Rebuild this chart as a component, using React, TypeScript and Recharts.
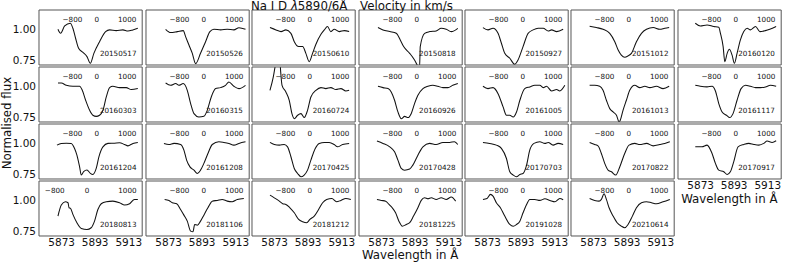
import React from "react";
import { LineChart, Line, XAxis, YAxis } from "recharts";

// axis ticks
const wavelengthTicks = [5873, 5893, 5913];
const wavelengthMinor = [5863, 5868, 5873, 5878, 5883, 5888, 5893, 5898, 5903, 5908, 5913, 5918];
const fluxTicks = [0.75, 1.0];
const fluxMinor = [0.75, 0.8, 0.85, 0.9, 0.95, 1.0, 1.05, 1.1, 1.15];
const velocityTicks = [-800, 0, 1000];

const wavelengthRange: [number, number] = [5859.5, 5921];
const fluxRange: [number, number] = [0.709, 1.157];
const velocityRange: [number, number] = [-1900, 1495];
const velocityRange20180813: [number, number] = [-1190, 1365];

// [wavelength Å, normalised flux]
const s20150517 = [[5870.8, 1.0], [5872.4, 0.967], [5874.8, 1.027], [5878.2, 1.049], [5879.7, 1.008], [5881.3, 0.927], [5883.1, 0.845], [5885.7, 0.812], [5888.1, 0.777], [5890.1, 0.723], [5892.2, 0.804], [5895.6, 0.899], [5899.2, 0.981], [5901.6, 0.995], [5905.5, 0.989], [5909.5, 0.995], [5912.5, 0.986], [5915.4, 0.995], [5918.4, 1.008]];
const s20150526 = [[5871.2, 1.0], [5874.2, 0.973], [5878.2, 0.981], [5881.7, 0.989], [5883.1, 0.94], [5885.1, 0.872], [5887.1, 0.804], [5889.1, 0.72], [5892.0, 0.804], [5895.0, 0.899], [5897.6, 0.981], [5900.0, 1.0], [5904.0, 0.995], [5907.9, 1.0], [5911.9, 0.995], [5914.9, 1.013], [5918.8, 1.0]];
const s20150610 = [[5870.2, 1.014], [5873.8, 0.995], [5876.8, 0.981], [5879.7, 0.995], [5882.7, 0.967], [5884.7, 0.899], [5887.3, 0.859], [5889.7, 0.859], [5891.6, 0.804], [5893.6, 0.736], [5895.6, 0.804], [5897.6, 0.878], [5900.6, 0.959], [5902.6, 0.995], [5904.5, 1.022], [5906.5, 0.981], [5908.5, 1.0], [5911.5, 0.981], [5914.5, 0.989], [5917.4, 0.981]];
const s20150818 = [[5870.8, 1.014], [5873.8, 0.995], [5877.8, 0.981], [5881.7, 0.967], [5884.1, 0.913], [5886.1, 0.859], [5889.7, 0.804], [5892.6, 0.75], [5894.6, 0.7], [5895.6, 0.69], [5896.0, 0.859], [5898.6, 0.967], [5901.6, 0.981], [5905.5, 0.986], [5908.5, 1.008], [5911.5, 1.0], [5914.5, 0.981], [5918.4, 1.008]];
const s20150927 = [[5870.2, 1.014], [5873.2, 0.995], [5876.2, 1.008], [5879.2, 0.967], [5881.2, 0.886], [5883.2, 0.804], [5886.2, 0.764], [5889.1, 0.715], [5891.1, 0.75], [5894.1, 0.859], [5897.1, 0.967], [5900.1, 0.995], [5903.1, 1.008], [5906.1, 1.008], [5909.1, 0.986], [5911.1, 0.995], [5914.1, 0.981], [5918.0, 1.0]];
const s20151012 = [[5870.6, 1.024], [5874.6, 1.014], [5878.6, 1.0], [5882.6, 0.967], [5885.6, 0.899], [5887.6, 0.831], [5889.5, 0.79], [5891.5, 0.772], [5893.5, 0.783], [5895.5, 0.804], [5898.5, 0.899], [5901.5, 0.967], [5904.5, 1.0], [5908.5, 1.014], [5912.4, 1.0], [5915.4, 1.008], [5918.0, 1.014]];
const s20160120 = [[5869.8, 1.049], [5872.8, 1.027], [5876.8, 1.035], [5880.8, 1.022], [5883.8, 1.016], [5884.8, 0.967], [5886.4, 0.859], [5887.4, 0.736], [5888.8, 0.804], [5890.1, 0.837], [5891.7, 0.791], [5893.1, 0.723], [5894.7, 0.804], [5896.7, 0.913], [5898.7, 0.981], [5900.7, 1.008], [5902.7, 0.995], [5905.7, 1.022], [5908.3, 0.981], [5911.6, 0.989], [5914.2, 1.0], [5918.0, 1.022]];
const s20160303 = [[5870.8, 1.027], [5872.8, 1.027], [5875.8, 1.008], [5879.7, 1.0], [5883.7, 1.0], [5885.3, 0.967], [5887.3, 0.886], [5889.7, 0.804], [5891.6, 0.764], [5893.6, 0.755], [5895.6, 0.764], [5897.6, 0.804], [5899.6, 0.913], [5901.6, 0.989], [5903.5, 1.0], [5907.5, 0.989], [5911.5, 0.989], [5914.5, 0.973], [5918.4, 0.981]];
const s20160315 = [[5871.2, 1.027], [5874.2, 1.008], [5877.2, 1.022], [5879.1, 1.008], [5881.7, 1.022], [5884.1, 0.967], [5886.1, 0.859], [5888.1, 0.777], [5891.0, 0.75], [5894.0, 0.755], [5896.0, 0.804], [5898.4, 0.913], [5901.0, 0.981], [5903.9, 0.989], [5906.9, 1.008], [5908.9, 1.035], [5911.9, 1.0], [5914.9, 0.981], [5918.8, 1.008]];
const s20160724 = [[5870.2, 0.967], [5872.2, 1.076], [5873.4, 1.171], [5874.8, 1.27], [5875.8, 1.27], [5876.6, 1.117], [5877.4, 1.008], [5879.7, 0.954], [5881.7, 0.886], [5883.3, 0.777], [5884.7, 0.736], [5886.7, 0.764], [5888.7, 0.777], [5890.6, 0.745], [5892.6, 0.804], [5894.6, 0.913], [5897.6, 0.967], [5900.6, 0.989], [5903.5, 0.981], [5906.5, 0.989], [5909.5, 0.973], [5912.5, 0.981], [5915.4, 0.962], [5917.4, 0.967]];
const s20160926 = [[5870.8, 1.0], [5873.8, 0.989], [5876.8, 0.981], [5878.7, 0.954], [5880.7, 0.886], [5882.7, 0.791], [5884.7, 0.736], [5886.7, 0.755], [5888.7, 0.745], [5890.6, 0.777], [5892.6, 0.859], [5894.6, 0.927], [5897.6, 0.981], [5900.6, 1.0], [5903.5, 1.008], [5906.5, 1.0], [5909.5, 0.989], [5912.5, 0.989], [5915.4, 1.008], [5918.4, 1.022]];
const s20161005 = [[5870.2, 1.0], [5873.2, 0.981], [5876.2, 0.989], [5879.2, 0.94], [5882.2, 0.832], [5884.2, 0.764], [5886.2, 0.764], [5888.2, 0.75], [5890.2, 0.791], [5892.2, 0.886], [5895.1, 0.981], [5898.1, 0.995], [5901.1, 1.008], [5904.1, 1.008], [5906.1, 0.989], [5908.1, 1.0], [5911.1, 0.962], [5914.1, 0.973], [5916.0, 0.962], [5919.0, 1.008]];
const s20161013 = [[5870.6, 1.008], [5873.6, 1.008], [5876.6, 1.0], [5878.6, 0.967], [5880.6, 0.886], [5882.6, 0.818], [5884.6, 0.791], [5886.6, 0.764], [5888.2, 0.709], [5889.0, 0.728], [5890.5, 0.804], [5892.5, 0.886], [5894.5, 0.967], [5897.5, 1.008], [5900.5, 0.989], [5903.5, 1.0], [5906.5, 0.989], [5910.4, 1.0], [5914.4, 0.981], [5918.0, 1.0]];
const s20161117 = [[5869.8, 1.008], [5872.8, 1.0], [5876.8, 0.995], [5879.8, 1.0], [5881.8, 0.962], [5883.8, 0.859], [5885.8, 0.791], [5888.4, 0.764], [5890.3, 0.745], [5892.3, 0.777], [5894.7, 0.886], [5897.1, 0.981], [5899.7, 1.008], [5902.7, 1.0], [5905.7, 0.989], [5908.7, 0.989], [5911.6, 0.995], [5914.6, 1.008], [5918.0, 1.0]];
const s20161204 = [[5870.2, 0.985], [5872.8, 0.999], [5875.8, 1.001], [5878.7, 0.999], [5880.7, 0.958], [5882.1, 0.904], [5883.7, 0.808], [5884.7, 0.741], [5886.1, 0.769], [5888.1, 0.782], [5890.1, 0.755], [5891.6, 0.746], [5893.6, 0.795], [5895.2, 0.89], [5897.6, 0.971], [5900.6, 0.999], [5904.5, 1.001], [5907.5, 1.004], [5910.5, 0.99], [5912.5, 0.979], [5915.5, 0.999], [5918.4, 1.007]];
const s20161208 = [[5870.2, 0.999], [5873.2, 0.99], [5876.2, 0.999], [5880.1, 0.99], [5882.1, 0.944], [5883.7, 0.863], [5885.7, 0.808], [5888.1, 0.781], [5890.1, 0.754], [5892.0, 0.781], [5894.0, 0.836], [5896.4, 0.917], [5899.0, 0.99], [5902.9, 1.012], [5905.9, 1.007], [5908.9, 0.999], [5911.9, 0.985], [5914.9, 0.999], [5918.8, 1.012]];
const s20170425 = [[5870.2, 1.007], [5872.8, 0.99], [5875.8, 0.985], [5878.7, 0.99], [5880.7, 0.971], [5882.7, 0.89], [5884.7, 0.795], [5886.7, 0.754], [5888.7, 0.727], [5890.6, 0.741], [5892.6, 0.781], [5894.6, 0.863], [5897.2, 0.958], [5899.6, 0.999], [5902.6, 1.007], [5905.5, 1.007], [5908.5, 0.99], [5910.5, 0.971], [5913.5, 0.99], [5917.4, 0.999]];
const s20170428 = [[5870.2, 1.018], [5873.8, 0.999], [5877.8, 0.971], [5880.7, 0.93], [5882.7, 0.863], [5884.7, 0.795], [5886.7, 0.781], [5889.7, 0.79], [5891.6, 0.822], [5894.6, 0.903], [5897.6, 0.971], [5901.6, 0.999], [5905.5, 0.99], [5909.5, 1.007], [5913.5, 1.007], [5916.4, 1.012], [5918.4, 0.99]];
const s20170703 = [[5870.2, 1.007], [5874.2, 0.999], [5878.2, 0.985], [5881.2, 0.958], [5884.2, 0.876], [5886.2, 0.768], [5888.2, 0.741], [5890.2, 0.727], [5892.2, 0.746], [5894.1, 0.754], [5896.2, 0.822], [5898.1, 0.944], [5900.6, 0.999], [5904.1, 1.012], [5907.1, 0.999], [5909.1, 1.007], [5912.0, 0.985], [5915.0, 0.999], [5918.0, 0.99]];
const s20170822 = [[5870.6, 1.007], [5873.6, 0.99], [5875.6, 0.979], [5877.6, 0.917], [5879.6, 0.836], [5881.6, 0.781], [5883.6, 0.768], [5886.2, 0.741], [5888.6, 0.809], [5891.5, 0.917], [5894.1, 0.985], [5897.5, 0.999], [5900.5, 0.99], [5904.5, 0.999], [5908.5, 0.979], [5912.4, 0.99], [5915.4, 0.999], [5918.4, 1.012]];
const s20170917 = [[5869.8, 0.971], [5873.8, 0.971], [5876.8, 0.985], [5879.8, 0.917], [5881.8, 0.836], [5883.8, 0.781], [5886.8, 0.768], [5888.8, 0.746], [5890.7, 0.768], [5892.7, 0.849], [5895.3, 0.971], [5898.7, 0.99], [5901.7, 0.999], [5904.7, 0.99], [5907.7, 0.985], [5910.6, 0.999], [5912.6, 1.018], [5915.6, 1.007], [5918.0, 1.021]];
const s20180813 = [[5870.8, 0.871], [5872.8, 0.961], [5875.2, 0.988], [5876.8, 0.98], [5877.4, 0.939], [5878.3, 0.934], [5879.7, 0.885], [5882.1, 0.817], [5884.7, 0.771], [5888.1, 0.762], [5890.6, 0.776], [5892.6, 0.83], [5894.6, 0.925], [5896.6, 0.972], [5899.6, 0.988], [5903.5, 0.993], [5907.5, 0.98], [5910.5, 0.961], [5913.5, 0.972], [5916.4, 1.007], [5918.4, 1.007]];
const s20181106 = [[5870.6, 1.007], [5873.2, 0.999], [5875.2, 0.98], [5877.8, 0.972], [5880.1, 0.925], [5882.1, 0.879], [5884.1, 0.83], [5886.1, 0.749], [5887.5, 0.743], [5888.5, 0.803], [5890.1, 0.797], [5892.0, 0.83], [5894.0, 0.879], [5896.4, 0.939], [5899.0, 0.993], [5902.0, 0.999], [5904.9, 1.007], [5907.9, 0.993], [5910.9, 0.988], [5913.9, 1.007], [5917.8, 1.015]];
const s20181212 = [[5870.2, 1.042], [5872.8, 1.02], [5875.8, 0.993], [5877.8, 0.972], [5879.7, 0.966], [5882.1, 0.939], [5884.7, 0.898], [5887.3, 0.844], [5889.7, 0.825], [5892.1, 0.817], [5894.0, 0.844], [5896.6, 0.871], [5899.2, 0.925], [5901.6, 0.98], [5904.0, 1.007], [5907.1, 1.015], [5909.9, 0.988], [5912.5, 0.999], [5915.4, 1.015], [5918.4, 1.007]];
const s20181225 = [[5870.2, 1.007], [5872.8, 0.999], [5875.4, 0.993], [5877.4, 0.966], [5879.3, 0.939], [5881.3, 0.898], [5883.3, 0.83], [5885.3, 0.789], [5887.7, 0.803], [5889.7, 0.817], [5892.0, 0.871], [5894.6, 0.939], [5896.6, 0.999], [5898.6, 1.02], [5900.6, 1.012], [5902.6, 1.02], [5905.5, 1.007], [5908.5, 1.02], [5911.5, 1.007], [5914.5, 1.026], [5917.1, 0.993]];
const s20191028 = [[5870.2, 1.007], [5872.6, 1.015], [5874.7, 1.048], [5876.2, 1.034], [5878.2, 0.98], [5880.6, 0.939], [5883.2, 0.871], [5886.2, 0.803], [5888.2, 0.789], [5890.2, 0.803], [5892.2, 0.83], [5894.1, 0.898], [5896.2, 0.966], [5898.1, 1.007], [5901.1, 1.007], [5904.1, 0.999], [5907.1, 1.012], [5910.1, 0.999], [5913.1, 0.988], [5916.0, 1.015], [5918.0, 1.004]];
const s20210614 = [[5870.6, 1.015], [5873.6, 0.999], [5876.2, 0.993], [5877.6, 1.007], [5879.2, 1.053], [5880.6, 1.007], [5882.2, 0.939], [5884.6, 0.871], [5887.0, 0.817], [5889.5, 0.789], [5891.5, 0.776], [5893.5, 0.803], [5896.1, 0.871], [5898.5, 0.939], [5901.5, 0.98], [5904.5, 0.988], [5907.5, 0.98], [5910.4, 0.972], [5914.4, 0.988], [5918.4, 1.007]];

const panels = [
  { date: "20150517", flux: s20150517 },
  { date: "20150526", flux: s20150526 },
  { date: "20150610", flux: s20150610 },
  { date: "20150818", flux: s20150818 },
  { date: "20150927", flux: s20150927 },
  { date: "20151012", flux: s20151012 },
  { date: "20160120", flux: s20160120 },
  { date: "20160303", flux: s20160303 },
  { date: "20160315", flux: s20160315 },
  { date: "20160724", flux: s20160724 },
  { date: "20160926", flux: s20160926 },
  { date: "20161005", flux: s20161005 },
  { date: "20161013", flux: s20161013 },
  { date: "20161117", flux: s20161117 },
  { date: "20161204", flux: s20161204 },
  { date: "20161208", flux: s20161208 },
  { date: "20170425", flux: s20170425 },
  { date: "20170428", flux: s20170428 },
  { date: "20170703", flux: s20170703 },
  { date: "20170822", flux: s20170822 },
  { date: "20170917", flux: s20170917 },
  { date: "20180813", flux: s20180813 },
  { date: "20181106", flux: s20181106 },
  { date: "20181212", flux: s20181212 },
  { date: "20181225", flux: s20181225 },
  { date: "20191028", flux: s20191028 },
  { date: "20210614", flux: s20210614 },
];

const FONT = "DejaVu Sans";
const X0 = 39.3;
const DX = 106.4;
const Y0 = 10;
const DY = 56.9;
const W = 103.2;
const H = 55;
const FRAME = "#555";
const INK = "#111";

const pos = (i: number) => {
  const col = i % 7;
  const row = Math.floor(i / 7);
  return { col, row, x: X0 + col * DX, y: Y0 + row * DY };
};

const fmtVel = (v: number) => (v < 0 ? `\u2212${-v}` : `${v}`);

function Panel({ i }: { i: number }) {
  const { col, row, x, y } = pos(i);
  const p = panels[i];
  const showY = col === 0;
  const showX = row === 3 || (row === 2 && col === 6);
  const padL = showY ? 40 : 2;
  const padB = showX ? 22 : 2;
  const data = p.flux.map(([w, f]) => ({ w, f }));
  const vRange = p.date === "20180813" ? velocityRange20180813 : velocityRange;
  return (
    <div style={{ position: "absolute", left: x - padL, top: y - 2 }}>
      <LineChart
        width={padL + W + 2}
        height={2 + H + padB}
        data={data}
        margin={{ top: 2, right: 2, bottom: 0, left: 0 }}
      >
        <XAxis
          xAxisId="wl"
          dataKey="w"
          type="number"
          domain={wavelengthRange}
          allowDataOverflow
          ticks={wavelengthTicks}
          interval={0}
          height={padB}
          stroke={FRAME}
          tickLine={false}
          tickSize={0}
          tickMargin={3}
          tick={showX ? { fontSize: 10.5, fill: INK, fontFamily: FONT } : false}
        />
        <XAxis
          xAxisId="wb"
          dataKey="w"
          type="number"
          domain={wavelengthRange}
          allowDataOverflow
          ticks={wavelengthMinor}
          interval={0}
          orientation="bottom"
          mirror
          height={1}
          stroke={FRAME}
          axisLine={false}
          tickSize={2.5}
          tick={false}
        />
        <XAxis
          xAxisId="wt"
          dataKey="w"
          type="number"
          domain={wavelengthRange}
          allowDataOverflow
          ticks={wavelengthMinor}
          interval={0}
          orientation="top"
          mirror
          height={1}
          stroke={FRAME}
          axisLine={false}
          tickSize={2.5}
          tick={false}
        />
        <XAxis
          xAxisId="v"
          dataKey="w"
          type="number"
          domain={vRange}
          allowDataOverflow
          ticks={velocityTicks}
          interval={0}
          orientation="top"
          mirror
          height={1}
          stroke={FRAME}
          tickLine={false}
          tickSize={0}
          tickMargin={7}
          tickFormatter={fmtVel}
          tick={{ fontSize: 7.2, fill: INK, fontFamily: FONT }}
        />
        <YAxis
          yAxisId="f"
          type="number"
          domain={fluxRange}
          allowDataOverflow
          ticks={fluxTicks}
          interval={0}
          width={padL}
          stroke={FRAME}
          tickLine={false}
          tickSize={0}
          tickMargin={3}
          tickFormatter={(v: number) => v.toFixed(2)}
          tick={showY ? { fontSize: 10.5, fill: INK, fontFamily: FONT } : false}
        />
        <YAxis
          yAxisId="fl"
          type="number"
          domain={fluxRange}
          allowDataOverflow
          ticks={fluxMinor}
          interval={0}
          orientation="left"
          mirror
          width={1}
          stroke={FRAME}
          axisLine={false}
          tickSize={2.5}
          tick={false}
        />
        <YAxis
          yAxisId="fr"
          type="number"
          domain={fluxRange}
          allowDataOverflow
          ticks={fluxMinor}
          interval={0}
          orientation="right"
          mirror
          width={1}
          stroke={FRAME}
          tickSize={2.5}
          tick={false}
        />
        {/* invisible series so the frame/tick axes get drawn */}
        <Line xAxisId="wb" yAxisId="fl" dataKey="f" stroke="none" dot={false} isAnimationActive={false} />
        <Line xAxisId="wt" yAxisId="fr" dataKey="f" stroke="none" dot={false} isAnimationActive={false} />
        <Line xAxisId="v" yAxisId="fr" dataKey="f" stroke="none" dot={false} isAnimationActive={false} />
        <Line
          xAxisId="wl"
          yAxisId="f"
          dataKey="f"
          type="monotone"
          stroke={INK}
          strokeWidth={1.05}
          dot={false}
          isAnimationActive={false}
        />
      </LineChart>
    </div>
  );
}

export default function App() {
  const bottomCenter = X0 + 3 * DX + W / 2;
  const lastCol = pos(20);
  return (
    <div style={{ position: "absolute", left: 0, top: 0, width: 789, height: 263, background: "#fff", overflow: "hidden" }}>
      {panels.map((_, i) => (
        <Panel key={i} i={i} />
      ))}
      <svg width={789} height={263} style={{ position: "absolute", left: 0, top: 0, pointerEvents: "none" }} fontFamily={FONT}>
        <text x={251} y={10.3} fontSize={11.8} fill={INK}>
          Na I D <tspan fontStyle="italic">λ</tspan>5890/6Å
        </text>
        <text x={360} y={10.3} fontSize={11.8} fill={INK}>
          Velocity in km/s
        </text>
        <text x={bottomCenter} y={259} fontSize={11.8} fill={INK} textAnchor="middle">
          Wavelength in Å
        </text>
        <text x={lastCol.x + W / 2} y={203} fontSize={11.8} fill={INK} textAnchor="middle">
          Wavelength in Å
        </text>
        <text x={11} y={123} fontSize={11.8} fill={INK} textAnchor="middle" transform="rotate(-90 11 123)">
          Normalised flux
        </text>
        {panels.map((p, i) => {
          const { x, y } = pos(i);
          return (
            <text key={p.date} x={x + W - 6} y={y + 46} fontSize={7.2} fill={INK} textAnchor="end">
              {p.date}
            </text>
          );
        })}
      </svg>
    </div>
  );
}
